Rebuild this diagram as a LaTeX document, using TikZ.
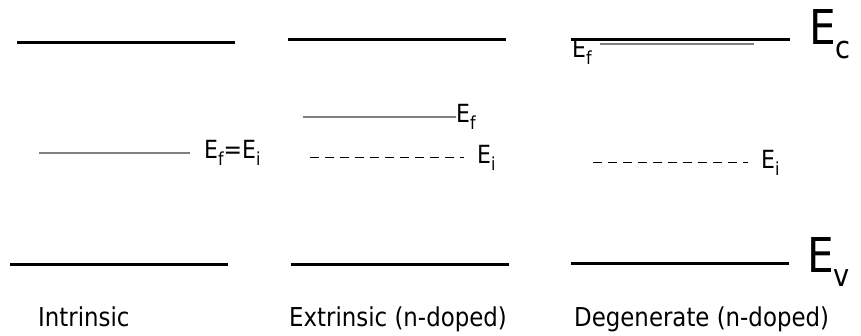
\documentclass[tikz,border=0pt]{standalone}
\usepackage{fontspec}
\setmainfont[FakeStretch=0.88]{DejaVu Sans}
\newcommand{\sbs}[1]{\raisebox{-0.3em}{\fontsize{18}{18}\selectfont #1}}
\newcommand{\bsbs}[1]{\raisebox{-0.3em}{\fontsize{31}{31}\selectfont #1}}
\tikzset{
  band/.style={line width=3pt, black},
  fermi/.style={line width=2pt, black!50},
  intr/.style={line width=1pt, black, dash pattern=on 9pt off 6pt},
  lbl/.style={inner sep=0pt, anchor=west, font=\fontsize{25}{28}\selectfont},
  big/.style={inner sep=0pt, anchor=west, font=\fontsize{48}{52}\selectfont},
  captext/.style={inner sep=0pt, anchor=base west, font=\fontsize{26}{30}\selectfont}
}
\begin{document}
\begin{tikzpicture}[x=1pt,y=-1pt]
\useasboundingbox (0,0) rectangle (861,335);
% intrinsic
\coordinate (ic1) at (17,42); \coordinate (ic2) at (235,42);
\coordinate (iv1) at (10,264); \coordinate (iv2) at (228,264);
\coordinate (if1) at (39,153); \coordinate (if2) at (190,153);
\draw[band] (ic1) -- (ic2);
\draw[band] (iv1) -- (iv2);
\draw[fermi] (if1) -- (if2);
\node[lbl] (ifl) at (204,153) {E\sbs{f}=E\sbs{i}};
% extrinsic
\coordinate (ec1) at (288,39); \coordinate (ec2) at (506,39);
\coordinate (ev1) at (291,264); \coordinate (ev2) at (509,264);
\coordinate (ef1) at (303,117); \coordinate (ef2) at (456,117);
\coordinate (ei1) at (310,157); \coordinate (ei2) at (464,157);
\draw[band] (ec1) -- (ec2);
\draw[band] (ev1) -- (ev2);
\draw[fermi] (ef1) -- (ef2);
\draw[intr] (ei1) -- (ei2);
\node[lbl] (efl) at (456,117) {E\sbs{f}};
\node[lbl] (eil) at (477,158) {E\sbs{i}};
% degenerate
\coordinate (dc1) at (571,39); \coordinate (dc2) at (790,39);
\coordinate (dv1) at (571,263); \coordinate (dv2) at (789,263);
\coordinate (df1) at (600,44); \coordinate (df2) at (754,44);
\coordinate (di1) at (593,162); \coordinate (di2) at (748,162);
\draw[band] (dc1) -- (dc2);
\draw[band] (dv1) -- (dv2);
\draw[line width=1.5pt, black!50] (df1) -- (df2);
\draw[intr] (di1) -- (di2);
\node[lbl] (dfl) at (572,52) {E\sbs{f}};
\node[lbl] (dil) at (761,163) {E\sbs{i}};
\node[big] (ecl) at (809,34) {E\bsbs{c}};
\node[big] (evl) at (807,262) {E\bsbs{v}};
% captions
\node[captext] (t1) at (38,326) {Intrinsic};
\node[captext] (t2) at (289,326) {Extrinsic (n-doped)};
\node[captext] (t3) at (574,326) {Degenerate (n-doped)};
\end{tikzpicture}
\end{document}
